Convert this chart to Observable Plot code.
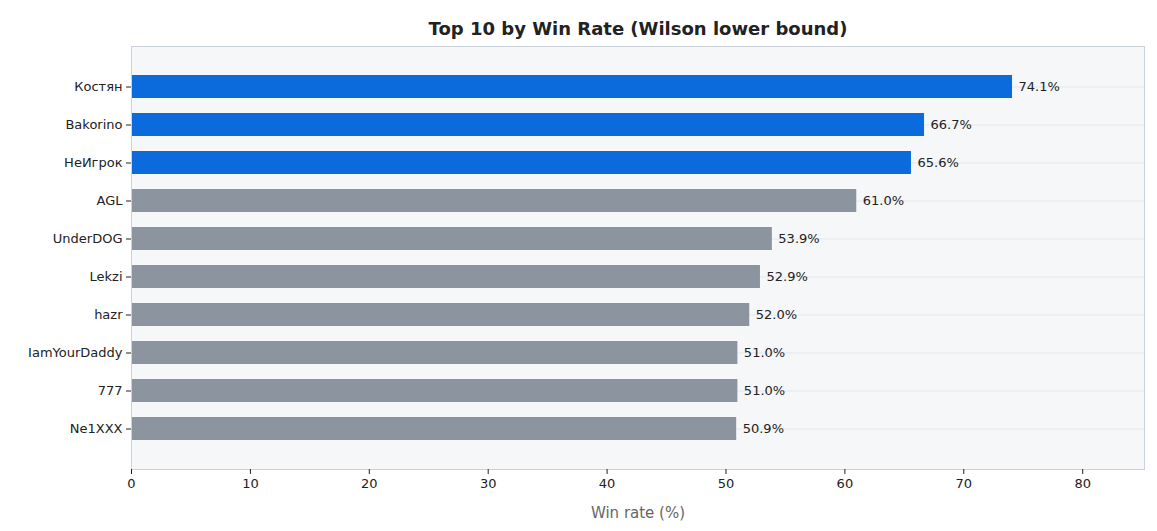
<!DOCTYPE html>
<html><head><meta charset="utf-8">
<script src="https://cdn.jsdelivr.net/npm/d3@7"></script>
<script src="https://cdn.jsdelivr.net/npm/@observablehq/plot@0.6"></script>
<style>body{margin:0;background:#fff;font-family:"DejaVu Sans",sans-serif}</style>
</head><body><div id="c"></div>
<script>
const players = ["Костян","Bakorino","НеИгрок","AGL","UnderDOG","Lekzi","hazr","IamYourDaddy","777","Ne1XXX"];
const winRates = [74.1,66.7,65.6,61.0,53.9,52.9,52.0,51.0,51.0,50.9];
const highlighted = [true,true,true,false,false,false,false,false,false,false];
const xTicks = [0,10,20,30,40,50,60,70,80];
const data = players.map((p,i)=>({p, v:winRates[i], h:highlighted[i]}));
const chart = Plot.plot({
  width:1157, height:531,
  marginTop:46, marginBottom:62, marginLeft:131, marginRight:13,
  style:{fontFamily:"DejaVu Sans, sans-serif", fontSize:"13px", color:"#222"},
  x:{domain:[0,85.2], ticks:xTicks, label:"Win rate (%)", labelAnchor:"center", labelArrow:"none", labelOffset:48},
  y:{domain:players, range:[57,458], padding:0.4, label:null},
  marks:[
    Plot.frame({fill:"#f6f7f9", stroke:"none"}),
    Plot.gridY({stroke:"#e3e7ee", strokeOpacity:1}),
    Plot.barX(data,{x:"v", y:"p", fill:d=>d.h?"#0b6bdc":"#8c949f"}),
    Plot.text(data,{x:"v", y:"p", text:d=>d.v.toFixed(1)+"%", textAnchor:"start", dx:6, fill:"#222", fontSize:13}),
    Plot.frame({stroke:"#ccd2dc"}),
    Plot.axisX({ticks:xTicks, tickSize:5, fontSize:13, label:"Win rate (%)", labelOffset:48, labelAnchor:"center", labelArrow:"none", color:"#222"}),
    Plot.axisY({tickSize:5, fontSize:13, label:null, color:"#222"}),
    Plot.text(["Top 10 by Win Rate (Wilson lower bound)"],{frameAnchor:"top", dy:-24, fontSize:18, fontWeight:"bold", fill:"#222"})
  ]
});
chart.querySelectorAll("[aria-label='x-axis label'] text").forEach(t=>{t.setAttribute("fill","#666");t.style.fontSize="15px";});
document.getElementById("c").append(chart);
</script></body></html>
